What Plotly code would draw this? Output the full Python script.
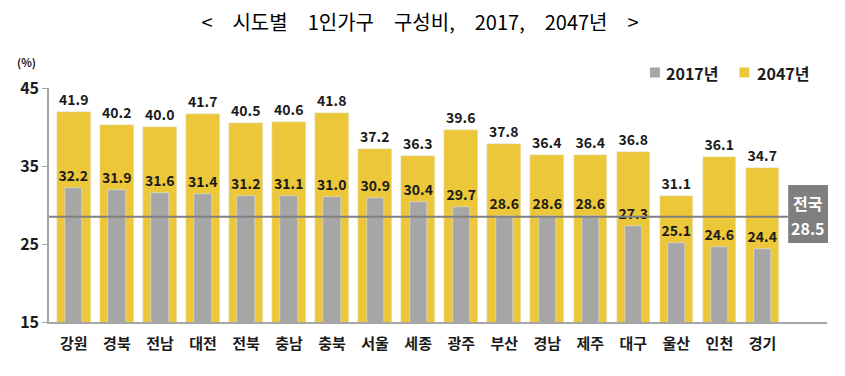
import plotly.graph_objects as go

regions = ["강원", "경북", "전남", "대전", "전북", "충남", "충북", "서울", "세종",
           "광주", "부산", "경남", "제주", "대구", "울산", "인천", "경기"]
v2017 = [32.2, 31.9, 31.6, 31.4, 31.2, 31.1, 31.0, 30.9, 30.4,
         29.7, 28.6, 28.6, 28.6, 27.3, 25.1, 24.6, 24.4]
v2047 = [41.9, 40.2, 40.0, 41.7, 40.5, 40.6, 41.8, 37.2, 36.3,
         39.6, 37.8, 36.4, 36.4, 36.8, 31.1, 36.1, 34.7]
national = 28.5
national_label = "전국"
y_ticks = [15, 25, 35, 45]
series_names = ["2017년", "2047년"]
title_text = "< 시도별 1인가구 구성비, 2017, 2047년 >"

FONT = "Noto Sans CJK KR"
DARK = "#1a1a1a"
YELLOW = "#EDC73A"
GRAY = "#A6A6A6"
LINEGRAY = "#808080"

W, H = 845, 376
L, R, T, B = 37, 26, 80, 62
PW, PH = W - L - R, H - T - B


def px(xf):  # figure pixel -> paper x
    return (xf - L) / PW


def py(yf):  # figure pixel -> paper y
    return (H - B - yf) / PH


fig = go.Figure()
fig.add_trace(go.Bar(
    x=regions, y=v2047, name=series_names[1], marker_color=YELLOW, width=0.78,
    text=[f"{v:.1f}" for v in v2047], textposition="outside",
    textfont=dict(family=FONT, size=14, color=DARK, weight="bold"),
    constraintext="none", cliponaxis=False, showlegend=False,
))
fig.add_trace(go.Bar(
    x=regions, y=v2017, name=series_names[0], marker_color=GRAY, width=0.4,
    text=[f"{v:.1f}" for v in v2017], textposition="outside",
    textfont=dict(family=FONT, size=14, color=DARK, weight="bold"),
    constraintext="none", cliponaxis=False, showlegend=False,
))

# national average line + label box
fig.add_shape(type="line", xref="paper", yref="y", x0=0, x1=px(780),
              y0=national, y1=national, line=dict(color=LINEGRAY, width=2))
fig.add_shape(type="rect", xref="paper", yref="paper",
              x0=px(780), x1=px(820), y0=py(235), y1=py(177),
              fillcolor="#7F7F7F", line=dict(width=0))
for txt, yy in [(national_label, 195), (f"{national}", 220)]:
    fig.add_annotation(xref="paper", yref="paper", x=px(800), y=py(yy),
                       text=txt, showarrow=False,
                       font=dict(family=FONT, size=16, color="white", weight="bold"),
                       xanchor="center", yanchor="middle")
fig.add_annotation(xref="paper", yref="paper", x=px(14), y=py(54), text="(%)",
                   showarrow=False, xanchor="center", yanchor="middle",
                   font=dict(family=FONT, size=11, color=DARK, weight="bold"))

# manual legend
leg = [(series_names[0], GRAY, 641, 655), (series_names[1], YELLOW, 731, 747)]
ly = 64.5
for name, col, sqx, tx in leg:
    fig.add_shape(type="rect", xref="paper", yref="paper",
                  x0=px(sqx), x1=px(sqx + 10), y0=py(ly + 5), y1=py(ly - 5),
                  fillcolor=col, line=dict(width=0))
    fig.add_annotation(xref="paper", yref="paper", x=px(tx), y=py(ly), text=name,
                       showarrow=False, xanchor="left", yanchor="middle",
                       font=dict(family=FONT, size=16, color=DARK, weight="bold"))

fig.update_layout(
    width=W, height=H,
    margin=dict(l=L, r=R, t=T, b=B),
    plot_bgcolor="white", paper_bgcolor="white",
    barmode="overlay",
    title=dict(text=title_text.replace(" ", "\u2003"), x=412 / W, xanchor="center",
               y=1 - 15 / H, yanchor="middle",
               font=dict(family=FONT, size=20, color="black", weight="normal")),
    showlegend=False,
    xaxis=dict(range=[-0.578, 17.5], showline=True, linecolor="#A6A6A6", linewidth=1.5,
               ticks="", ticklabelstandoff=7,
               tickfont=dict(family=FONT, size=15, color=DARK, weight="bold"),
               showgrid=False, fixedrange=True),
    yaxis=dict(range=[15, 45], tickvals=y_ticks, showline=True, linecolor="#A6A6A6",
               linewidth=1.5, ticks="outside", ticklen=5, tickcolor="#A6A6A6",
               tickfont=dict(family=FONT, size=16, color=DARK, weight="bold"),
               showgrid=False, zeroline=False),
    bargap=0,
)
fig.write_html("out.html")
